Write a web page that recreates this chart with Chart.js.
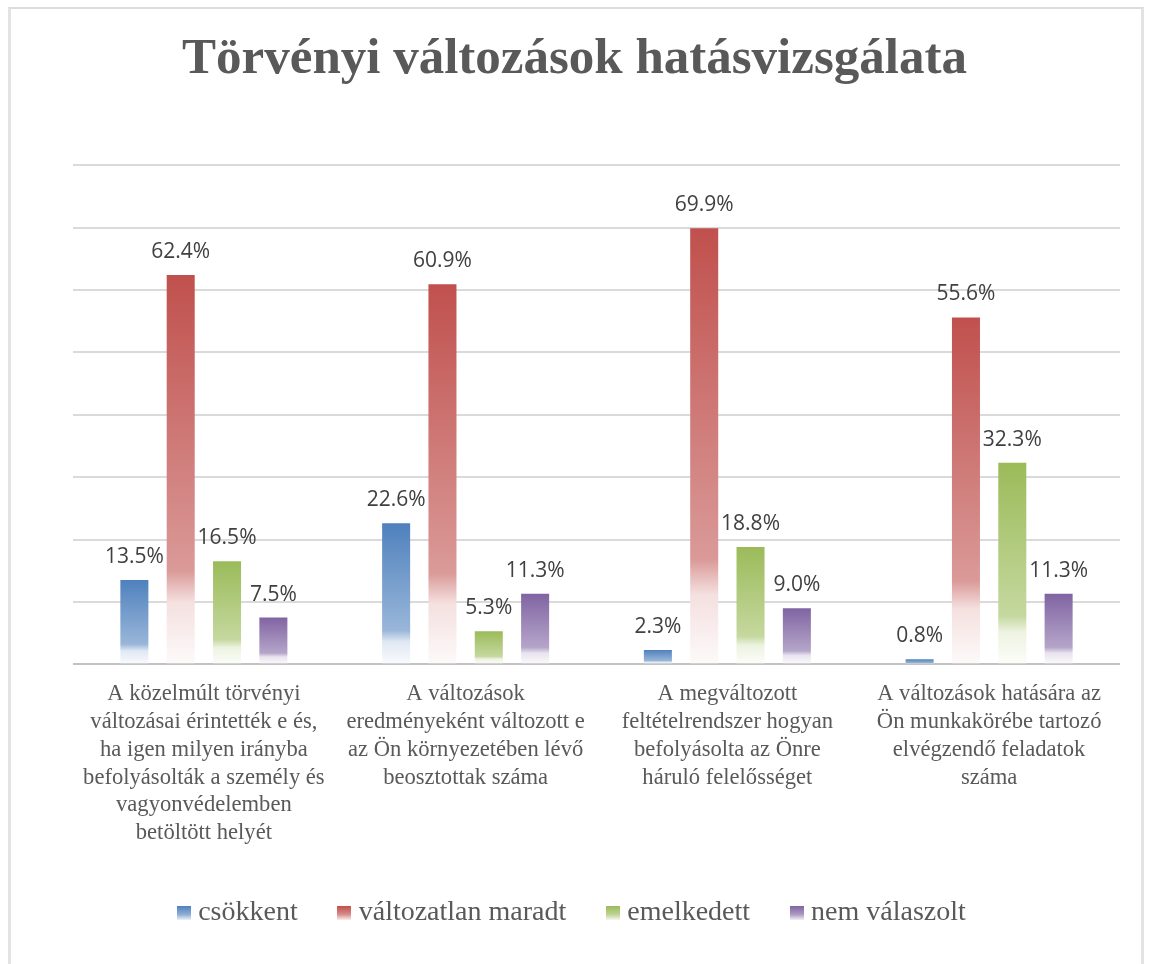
<!DOCTYPE html>
<html lang="hu">
<head>
<meta charset="utf-8">
<title>Törvényi változások hatásvizsgálata</title>
<script src="https://cdn.jsdelivr.net/npm/chart.js@4.4.1/dist/chart.umd.min.js"></script>
<style>
  html, body { margin: 0; padding: 0; background: #ffffff; }
  #wrap { position: relative; width: 1149px; height: 964px; overflow: hidden; }
  #frame {
    position: absolute; left: 8px; top: 7px; width: 1130px; height: 1000px;
    border-left: 3px solid #e3e3e3; border-right: 3px solid #e3e3e3; border-top: 2px solid #dcdcdc;
    pointer-events: none;
  }
</style>
</head>
<body>
<div id="wrap">
  <canvas id="impactChart"></canvas>
  <div id="frame"></div>
</div>
<script>
// kategóriák (tengelyfeliratok sorokra bontva)
const categories = [
  ['A közelmúlt törvényi', 'változásai érintették e és,', 'ha igen milyen irányba', 'befolyásolták a személy és', 'vagyonvédelemben', 'betöltött helyét'],
  ['A változások', 'eredményeként változott e', 'az Ön környezetében lévő', 'beosztottak száma'],
  ['A megváltozott', 'feltételrendszer hogyan', 'befolyásolta az Önre', 'háruló felelősséget'],
  ['A változások hatására az', 'Ön munkakörébe tartozó', 'elvégzendő feladatok', 'száma']
];

const seriesNames = ['csökkent', 'változatlan maradt', 'emelkedett', 'nem válaszolt'];

// értékek (%)
const csokkent = [13.5, 22.6, 2.3, 0.8];
const valtozatlan = [62.4, 60.9, 69.9, 55.6];
const emelkedett = [16.5, 5.3, 18.8, 32.3];
const nemValaszolt = [7.5, 11.3, 9.0, 11.3];

const yTicks = [0, 10, 20, 30, 40, 50, 60, 70, 80];

const colors = ['#4f81bd', '#c0504d', '#9bbb59', '#8064a2'];

function tint(hex, amount) {
  const r = parseInt(hex.slice(1, 3), 16);
  const g = parseInt(hex.slice(3, 5), 16);
  const b = parseInt(hex.slice(5, 7), 16);
  const mix = (c) => Math.round(c + (255 - c) * amount);
  return `rgb(${mix(r)}, ${mix(g)}, ${mix(b)})`;
}

function addStops(grad, color) {
  grad.addColorStop(0, color);
  grad.addColorStop(0.76, tint(color, 0.42));
  grad.addColorStop(0.84, tint(color, 0.82));
  grad.addColorStop(1, tint(color, 0.97));
  return grad;
}

// oszlop színátmenet: felül telt szín, alul fehér
function barFill(color) {
  return (context) => {
    const chart = context.chart;
    if (!chart.chartArea || context.type !== 'data') return color;
    const yScale = chart.scales.y;
    const top = yScale.getPixelForValue(context.raw);
    const base = yScale.getPixelForValue(0);
    if (base - top < 1) return color;
    return addStops(chart.ctx.createLinearGradient(0, top, 0, base), color);
  };
}

function legendSwatch(color) {
  const c = document.createElement('canvas');
  c.width = 14;
  c.height = 14;
  const g = c.getContext('2d');
  const grad = g.createLinearGradient(0, 0, 0, 14);
  grad.addColorStop(0, color);
  grad.addColorStop(0.6, tint(color, 0.35));
  grad.addColorStop(1, tint(color, 0.9));
  g.fillStyle = grad;
  g.fillRect(0, 0, 14, 14);
  return c;
}

// érték feliratok az oszlopok fölé
const valueLabelPlugin = {
  id: 'valueLabels',
  afterDatasetsDraw: (chart) => {
    const ctx = chart.ctx;
    ctx.save();
    ctx.font = '21px "Open Sans", sans-serif';
    ctx.fillStyle = '#404040';
    ctx.textAlign = 'center';
    ctx.textBaseline = 'alphabetic';
    chart.data.datasets.forEach((dataset, i) => {
      const meta = chart.getDatasetMeta(i);
      meta.data.forEach((bar, j) => {
        const text = dataset.data[j].toFixed(1) + '%';
        ctx.fillText(text, bar.x, bar.y - 17);
      });
    });
    ctx.restore();
  }
};

const seriesData = [csokkent, valtozatlan, emelkedett, nemValaszolt];

const ctx = document.getElementById('impactChart').getContext('2d');
new Chart(ctx, {
  type: 'bar',
  data: {
    labels: categories,
    datasets: seriesNames.map((name, i) => ({
      label: name,
      data: seriesData[i],
      backgroundColor: barFill(colors[i]),
      borderWidth: 0,
      categoryPercentage: 0.708,
      barPercentage: 0.605
    }))
  },
  options: {
    responsive: true,
    maintainAspectRatio: false,
    animation: false,
    layout: { padding: { top: 0, left: 0, right: 0, bottom: 27 } },
    plugins: {
      title: {
        display: true,
        text: 'Törvényi változások hatásvizsgálata',
        color: '#595959',
        font: { family: '"Liberation Serif", "Times New Roman", serif', size: 51, weight: 'bold' },
        padding: { top: 29, bottom: 75 }
      },
      legend: {
        position: 'bottom',
        labels: {
          usePointStyle: true,
          boxWidth: 1,
          boxHeight: 14,
          padding: 46,
          color: '#595959',
          font: { family: '"Liberation Serif", "Times New Roman", serif', size: 28 },
          generateLabels: (chart) => chart.data.datasets.map((ds, i) => ({
            text: ds.label,
            pointStyle: legendSwatch(colors[i]),
            fillStyle: colors[i],
            strokeStyle: 'rgba(0,0,0,0)',
            lineWidth: 0,
            hidden: false,
            datasetIndex: i,
            fontColor: '#595959'
          }))
        }
      },
      tooltip: { enabled: false }
    },
    scales: {
      x: {
        grid: { display: false },
        border: { display: false },
        ticks: {
          color: '#595959',
          padding: 8,
          maxRotation: 0,
          autoSkip: false,
          font: { family: '"Liberation Serif", "Times New Roman", serif', size: 22.6, lineHeight: 1.23 }
        },
        afterFit: (scale) => { scale.height = 188.7; }
      },
      y: {
        min: 0,
        max: 80,
        afterBuildTicks: (scale) => { scale.ticks = yTicks.map(v => ({ value: v })); },
        ticks: { display: false },
        border: { display: false },
        grid: {
          drawTicks: false,
          lineWidth: 2,
          color: (c) => (c.tick && c.tick.value === 0 ? '#c2c2c2' : '#dadada')
        },
        afterFit: (scale) => { scale.width = 73; }
      },
      y2: {
        position: 'right',
        min: 0,
        max: 80,
        ticks: { display: false },
        border: { display: false },
        grid: { display: false },
        afterFit: (scale) => { scale.width = 29; }
      }
    }
  },
  plugins: [valueLabelPlugin]
});
</script>
</body>
</html>
